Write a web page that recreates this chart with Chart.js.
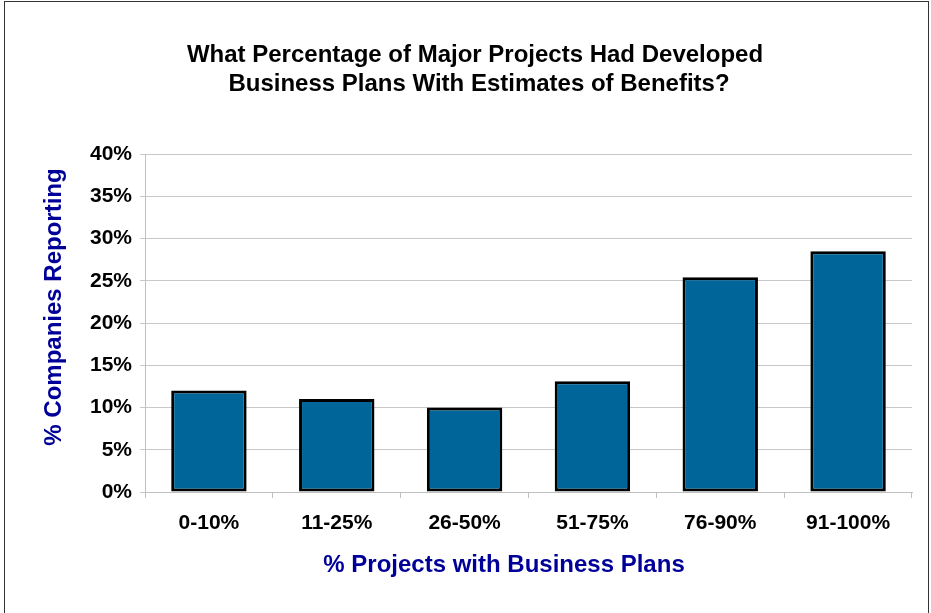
<!DOCTYPE html>
<html>
<head>
<meta charset="utf-8">
<script src="https://cdn.jsdelivr.net/npm/chart.js@4"></script>
<style>
  body { margin: 0; background: #fff; }
  #wrap { position: relative; width: 931px; height: 613px; }
  #frame { position: absolute; left: 4px; top: 1px; width: 923px; height: 620px; border: 1px solid #333; pointer-events: none; }
</style>
</head>
<body>
<div id="wrap">
  <canvas id="chart" width="931" height="613"></canvas>
  <div id="frame"></div>
</div>
<script>
const categories = ['0-10%', '11-25%', '26-50%', '51-75%', '76-90%', '91-100%'];
const companiesReporting = [12, 11, 10, 13.1, 25.4, 28.5];
const yTicks = [0, 5, 10, 15, 20, 25, 30, 35, 40];
const titleLines = ['What Percentage of Major Projects Had Developed', 'Business Plans With Estimates of Benefits?'];

const FONT = '"Liberation Sans", Arial, sans-serif';

// chart title and axis titles drawn by hand so they sit where the original has them
const titles = {
  id: 'titles',
  afterDraw(chart) {
    const c = chart.ctx;
    c.save();
    c.textAlign = 'center';
    c.font = 'bold 24px ' + FONT;
    c.fillStyle = '#000';
    c.textBaseline = 'alphabetic';
    c.fillText(titleLines[0], 475, 62);
    c.fillText(titleLines[1], 479, 91);

    c.fillStyle = '#000099';
    c.textBaseline = 'middle';
    c.fillText('% Projects with Business Plans', 504, 565);
    c.translate(54, 307);
    c.rotate(-Math.PI / 2);
    c.fillText('% Companies Reporting', 0, 0);
    c.restore();
  }
};

new Chart(document.getElementById('chart'), {
  type: 'bar',
  data: {
    labels: categories,
    datasets: [{
      data: companiesReporting,
      backgroundColor: '#006699',
      borderColor: '#000',
      borderWidth: 3,
      borderSkipped: false,
      categoryPercentage: 0.59,
      barPercentage: 1
    }]
  },
  options: {
    responsive: false,
    animation: false,
    layout: { padding: { left: 0, right: 19, top: 154, bottom: 0 } },
    plugins: {
      legend: { display: false },
      tooltip: { enabled: false },
      title: { display: false }
    },
    scales: {
      x: {
        afterFit: s => { s.height = 121; },
        border: { color: '#c0c0c0' },
        grid: {
          tickLength: 6,
          tickColor: '#c0c0c0',
          color: ctx => ctx.index === categories.length ? '#c0c0c0' : 'rgba(0,0,0,0)'
        },
        ticks: { color: '#000', padding: 13, font: { family: FONT, size: 21, weight: 'bold' } }
      },
      y: {
        min: 0,
        max: 40,
        afterFit: s => { s.width = 145; },
        afterBuildTicks: s => { s.ticks = yTicks.map(v => ({ value: v })); },
        border: { color: '#c0c0c0' },
        grid: { color: '#c8c8c8', tickLength: 5 },
        ticks: {
          color: '#000',
          padding: 8,
          font: { family: FONT, size: 21, weight: 'bold' },
          callback: v => v + '%'
        }
      }
    }
  },
  plugins: [titles]
});
</script>
</body>
</html>
